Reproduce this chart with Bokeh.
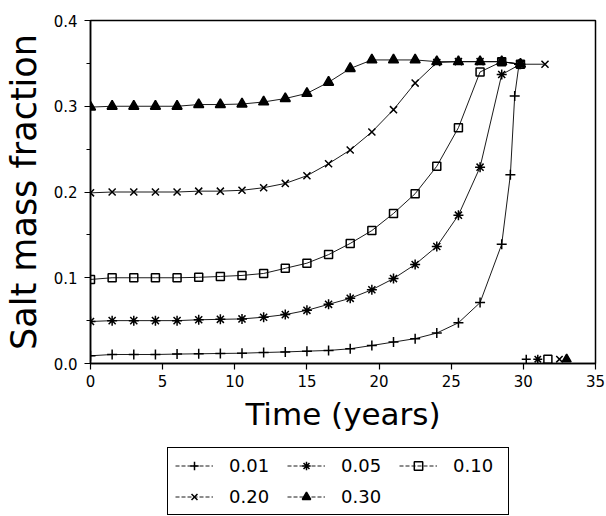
from bokeh.plotting import figure
from bokeh.layouts import column
from bokeh.models import Range1d, FixedTicker, PrintfTickFormatter, Legend, LegendItem
from bokeh.embed import file_html
from bokeh.resources import INLINE

# Simulation time steps (years) shared by the early part of every run
t_main = [0, 1.5, 3, 4.5, 6, 7.5, 9, 10.5, 12, 13.5, 15, 16.5, 18, 19.5,
          21, 22.5, 24, 25.5, 27, 28.5]

# Salt mass fraction for each initial salt fraction
t_001 = t_main + [29.1, 29.4, 29.7]
v_001 = [0.009, 0.0105, 0.0105, 0.0105, 0.011, 0.0113, 0.0117, 0.012, 0.0128,
         0.0135, 0.0144, 0.0152, 0.0172, 0.021, 0.025, 0.029, 0.0355, 0.0475,
         0.071, 0.139, 0.220, 0.312, 0.349]

t_005 = t_main + [29.8]
v_005 = [0.049, 0.050, 0.050, 0.050, 0.050, 0.051, 0.0515, 0.052, 0.054, 0.057,
         0.062, 0.069, 0.076, 0.086, 0.099, 0.1155, 0.1365, 0.173, 0.229, 0.337,
         0.349]

t_010 = t_main + [29.8]
v_010 = [0.098, 0.100, 0.100, 0.100, 0.100, 0.1005, 0.1015, 0.1027, 0.105, 0.111,
         0.117, 0.127, 0.140, 0.155, 0.175, 0.198, 0.230, 0.275, 0.340, 0.352,
         0.349]

t_020 = t_main + [29.8, 31.5]
v_020 = [0.199, 0.200, 0.200, 0.200, 0.200, 0.201, 0.201, 0.202, 0.205, 0.210,
         0.219, 0.233, 0.249, 0.270, 0.296, 0.327, 0.351, 0.352, 0.352, 0.352,
         0.349, 0.349]

t_030 = t_main + [29.8]
v_030 = [0.299, 0.300, 0.300, 0.300, 0.300, 0.302, 0.302, 0.3026, 0.305, 0.309,
         0.315, 0.328, 0.344, 0.354, 0.354, 0.354, 0.352, 0.352, 0.352, 0.352,
         0.349]

# Late-time points where each run's salt fraction has dropped back to about zero
t_zero = [30.2, 31.0, 31.7, 32.5, 33.0]
v_zero = [0.005, 0.005, 0.005, 0.005, 0.005]

labels = ["0.01", "0.05", "0.10", "0.20", "0.30"]
markers = ["cross", "asterisk", "square", "x", "triangle"]
x_ticks = [0, 5, 10, 15, 20, 25, 30, 35]
y_ticks = [0.0, 0.1, 0.2, 0.3, 0.4]
y_minor = [0.05, 0.15, 0.25, 0.35]

FONT = "DejaVu Sans"

p = figure(width=606, height=445, output_backend="svg", toolbar_location=None,
           x_range=Range1d(0, 35), y_range=Range1d(0, 0.4),
           min_border_left=90, min_border_right=11, min_border_top=20,
           min_border_bottom=82)
p.grid.visible = False
p.outline_line_color = "black"
p.outline_line_width = 1.5

p.xaxis.ticker = FixedTicker(ticks=x_ticks)
p.yaxis.ticker = FixedTicker(ticks=y_ticks, minor_ticks=y_minor)
p.yaxis.formatter = PrintfTickFormatter(format="%.1f")
for ax in (p.xaxis[0], p.yaxis[0]):
    ax.axis_line_width = 1.5
    ax.major_tick_line_width = 1.2
    ax.minor_tick_line_width = 1.0
    ax.major_tick_in = 0
    ax.major_tick_out = 6
    ax.minor_tick_in = 0
    ax.minor_tick_out = 4
    ax.major_label_text_font = FONT
    ax.major_label_text_font_size = "15px"
    ax.major_label_text_color = "black"
    ax.axis_label_text_font = FONT
    ax.axis_label_text_font_style = "normal"
    ax.axis_label_text_color = "black"
p.xaxis.minor_tick_line_color = None
p.xaxis.major_label_standoff = 5
p.yaxis.major_label_standoff = 7
p.xaxis.axis_label = "Time (years)"
p.xaxis.axis_label_text_font_size = "31px"
p.xaxis.axis_label_standoff = 6
p.yaxis.axis_label = "Salt mass fraction"
p.yaxis.axis_label_text_font_size = "35px"
p.yaxis.axis_label_standoff = 7

series = [(t_001, v_001), (t_005, v_005), (t_010, v_010), (t_020, v_020), (t_030, v_030)]
for i, ((ts, vs), mk) in enumerate(zip(series, markers)):
    fill = "black" if mk == "triangle" else None
    p.line(ts, vs, line_color="black", line_width=0.9)
    p.scatter(ts, vs, marker=mk, size=10 if mk != "square" else 8,
              line_color="black", line_width=1.5, fill_color=fill)
    p.scatter([t_zero[i]], [v_zero[i]], marker=mk, size=9 if mk != "square" else 8,
              line_color="black", line_width=1.5, fill_color=fill)

# Key strip underneath the chart; its sample glyphs sit outside the visible range
k = figure(width=606, height=71, output_backend="svg", toolbar_location=None,
           x_range=Range1d(0, 1), y_range=Range1d(0, 1),
           min_border=0, outline_line_color=None)
k.axis.visible = False
k.grid.visible = False
items = []
for lab, mk in zip(labels, markers):
    fill = "black" if mk == "triangle" else None
    ln = k.line([-2, -1], [-2, -1], line_color="black", line_width=0.9, line_dash="4 2")
    sc = k.scatter([-2], [-2], marker=mk, size=10 if mk != "square" else 7,
                   line_color="black", line_width=1.5, fill_color=fill)
    items.append(LegendItem(label=lab, renderers=[ln, sc]))

legend = Legend(items=items, ncols=3, orientation="horizontal",
                location=(77, 1), border_line_color="black", border_line_width=1.5,
                border_line_alpha=1.0,
                background_fill_alpha=0, label_text_font=FONT, label_text_color="black",
                label_text_font_size="18px", glyph_width=38, glyph_height=21,
                label_standoff=16, label_width=48, label_height=21,
                spacing=10, padding=7, margin=0)
k.add_layout(legend, "center")

open("out.html", "w").write(file_html(column(p, k, spacing=0), INLINE))
